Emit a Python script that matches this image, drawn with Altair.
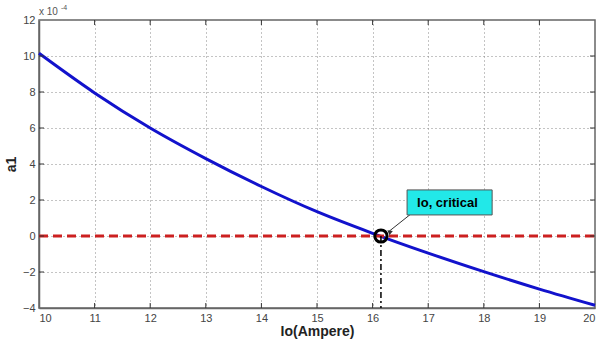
import altair as alt
import pandas as pd

io_vals = [10, 11, 12, 13, 14, 15, 16, 17, 18, 19, 20]
a1_vals = [10.15, 7.95, 6.0, 4.3, 2.75, 1.35, 0.15, -0.95, -1.98, -2.95, -3.85]
x_ticks = list(range(10, 21))
y_ticks = [-4, -2, 0, 2, 4, 6, 8, 10, 12]
io_crit = 16.15
label_text = "Io, critical"

curve = pd.DataFrame({"io": io_vals, "a1": a1_vals})
zero = pd.DataFrame({"io": [10, 20], "a1": [0, 0]})
crit = pd.DataFrame({"io": [io_crit], "a1": [0.0], "ybot": [-4.0]})
box = pd.DataFrame({"x1": [16.62], "x2": [18.15], "y1": [1.17], "y2": [2.56]})
lab = pd.DataFrame({"x": [16.8], "y": [1.86], "t": [label_text]})
arrow = pd.DataFrame({"x": [16.72, 16.28], "y": [1.3, 0.22]})
head = pd.DataFrame({"x": [16.3], "y": [0.24]})
expo = pd.DataFrame({"x": [10.0], "y": [12.0]})
xt = pd.DataFrame({"v": x_ticks[1:-1]})
yt = pd.DataFrame({"v": y_ticks[1:-1]})

font = "Liberation Sans"
xs = alt.Scale(domain=[10, 20], nice=False, zero=False)
ys = alt.Scale(domain=[-4, 12], nice=False, zero=False)

xaxis = alt.Axis(values=x_ticks, title="Io(Ampere)", grid=True, format="d", ticks=False,
                 labelOverlap=False, labelPadding=4, titlePadding=1)
yaxis = alt.Axis(values=y_ticks, title="a1", grid=True, format="d", ticks=False,
                 labelOverlap=False, labelPadding=4, titlePadding=4)


def X(f):
    return alt.X(f, scale=xs, axis=xaxis)


def Y(f):
    return alt.Y(f, scale=ys, axis=yaxis)


base_line = alt.Chart(curve).mark_line(color="#1212cc", strokeWidth=3, interpolate="monotone").encode(
    x=X("io:Q"), y=Y("a1:Q")
)

zero_line = alt.Chart(zero).mark_line(color="#cc2020", strokeWidth=3, strokeDash=[9, 5]).encode(
    x=X("io:Q"), y=Y("a1:Q")
)

vline = alt.Chart(crit).mark_rule(color="black", strokeWidth=1.5, strokeDash=[6, 3, 2, 3]).encode(
    x=X("io:Q"), y=Y("a1:Q"), y2="ybot:Q"
)

circ = alt.Chart(crit).mark_point(shape="circle", size=150, color="black", strokeWidth=3,
                                  filled=False, opacity=1).encode(
    x=X("io:Q"), y=Y("a1:Q")
)

rect = alt.Chart(box).mark_rect(fill="#22e8e8", stroke="#555555", strokeWidth=1).encode(
    x=X("x1:Q"), x2="x2:Q", y=Y("y1:Q"), y2="y2:Q"
)

text = alt.Chart(lab).mark_text(align="left", baseline="middle", font=font, fontSize=13,
                                 fontWeight="bold", color="black").encode(
    x=X("x:Q"), y=Y("y:Q"), text="t:N"
)

arr = alt.Chart(arrow).mark_line(color="#333333", strokeWidth=1).encode(
    x=X("x:Q"), y=Y("y:Q")
)

arrhead = alt.Chart(head).mark_point(shape="triangle-left", size=30, color="#333333", filled=True,
                                     angle=38, opacity=1).encode(
    x=X("x:Q"), y=Y("y:Q")
)

exp1 = alt.Chart(expo).mark_text(align="left", baseline="bottom", font=font, fontSize=10, color="#555555", dy=-3, dx=0).encode(
    x=X("x:Q"), y=Y("y:Q"), text=alt.value("x 10")
)
exp2 = alt.Chart(expo).mark_text(align="left", baseline="bottom", font=font, fontSize=7, color="#555555", dy=-9, dx=22).encode(
    x=X("x:Q"), y=Y("y:Q"), text=alt.value("-4")
)

tick_col = "#333333"
xt_bot = alt.Chart(xt).mark_rule(color=tick_col, strokeWidth=1).encode(
    x=X("v:Q"), y=alt.value(288), y2=alt.value(283))
xt_top = alt.Chart(xt).mark_rule(color=tick_col, strokeWidth=1).encode(
    x=X("v:Q"), y=alt.value(0), y2=alt.value(5))
yt_left = alt.Chart(yt).mark_rule(color=tick_col, strokeWidth=1).encode(
    y=Y("v:Q"), x=alt.value(0), x2=alt.value(5))
yt_right = alt.Chart(yt).mark_rule(color=tick_col, strokeWidth=1).encode(
    y=Y("v:Q"), x=alt.value(556), x2=alt.value(551))

chart = alt.layer(base_line, zero_line, vline, circ, arr, arrhead, rect, text, exp1, exp2,
                  xt_bot, xt_top, yt_left, yt_right).properties(
    width=556, height=288,
    autosize=alt.AutoSizeParams(type="none"),
    padding={"left": 39, "top": 20, "right": 3, "bottom": 34},
).configure_view(
    stroke="#666666", strokeWidth=1.5
).configure_axis(
    labelFont=font, titleFont=font, labelFontSize=11, labelColor="#444444",
    titleFontSize=14, titleColor="#222222", titleFontWeight="bold",
    gridColor="#888888", gridDash=[1, 3], gridWidth=1,
    domainColor="#666666", domainWidth=1.5,
)

chart.save("out.html", embed_options={"renderer": "svg", "actions": False})
